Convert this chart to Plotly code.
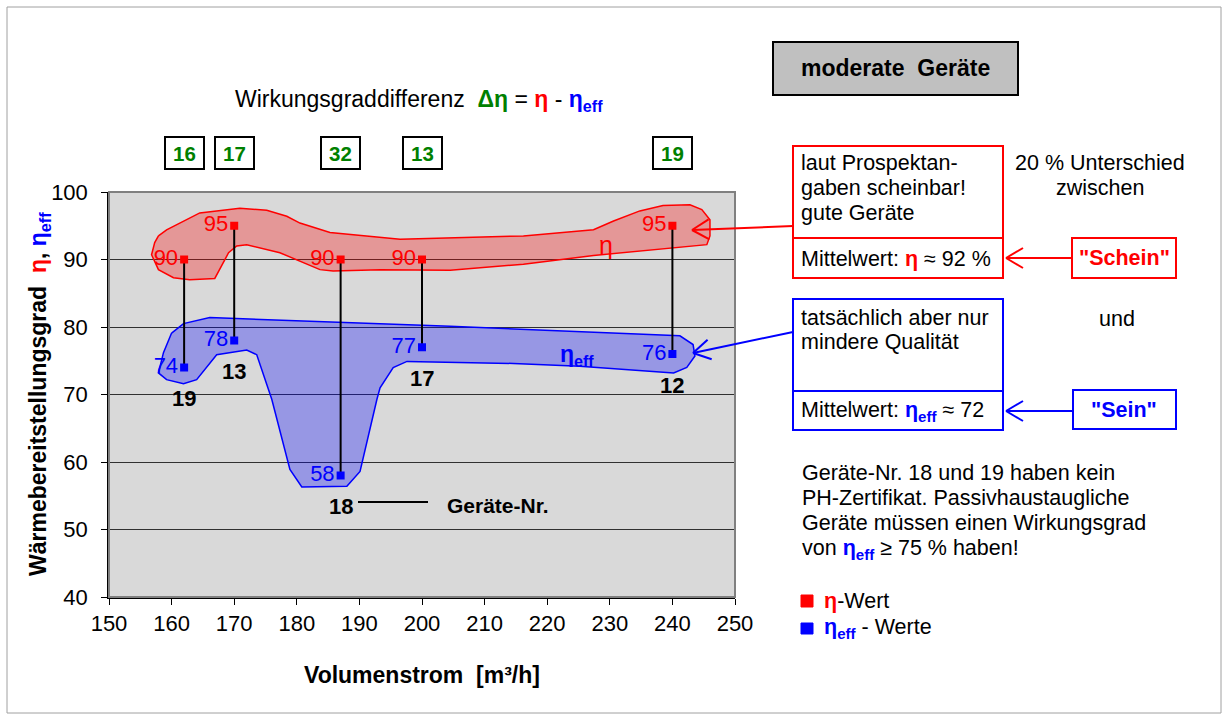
import math
import plotly.graph_objects as go

# ---------------- data ----------------
flow = [162, 170, 187, 200, 240]          # Volumenstrom [m³/h]
eta = [90, 95, 90, 90, 95]                # η (Prospektangaben)
eta_eff = [74, 78, 58, 77, 76]            # η_eff (gemessen)
device_no = ["19", "13", "18", "17", "12"]
x_ticks = list(range(150, 251, 10))
y_ticks = list(range(40, 101, 10))

# hand-drawn highlight regions (data coordinates)
red_blob_x = [157.9, 159.2, 164.5, 170.9, 175.2, 178.4, 180.5, 185.3, 196.5, 216.2, 227.4, 230.6,
              234.8, 238.5, 242.8, 244.7, 246.0, 246.0, 245.5, 227.4, 216.2, 204.5, 193.3, 185.8,
              183.7, 180.0, 177.3, 172.0, 170.4, 169.1, 166.9, 162.9, 160.3, 157.9, 156.8, 157.3, 157.9]
red_blob_y = [93.5, 94.4, 96.9, 97.6, 97.3, 96.4, 95.4, 94.0, 93.0, 93.5, 94.4, 95.7,
              97.2, 98.0, 98.1, 97.4, 95.9, 93.5, 92.2, 90.6, 89.3, 88.4, 88.5, 88.3,
              88.5, 90.0, 91.0, 92.2, 92.0, 91.0, 87.2, 87.0, 87.3, 88.5, 90.7, 92.5, 93.5]
blue_blob_x = [160.0, 161.9, 166.1, 193.3, 204.5, 241.2, 243.3, 243.6, 242.3, 240.2, 225.2, 214.6,
               197.6, 195.4, 193.3, 192.8, 190.1, 188.0, 180.8, 178.9, 177.8, 176.0, 173.6, 172.0,
               167.2, 164.0, 161.9, 159.2, 157.9, 158.7, 160.0]
blue_blob_y = [79.1, 80.5, 81.4, 80.5, 80.1, 78.7, 77.4, 75.7, 74.0, 73.2, 74.2, 74.6,
               74.9, 74.0, 71.0, 69.3, 58.6, 56.4, 56.3, 58.9, 62.8, 69.3, 75.9, 76.6,
               75.9, 72.2, 71.6, 72.2, 73.2, 76.2, 79.1]

diff = [a - b for a, b in zip(eta, eta_eff)]

# ---------------- layout helpers (pixel -> paper) ----------------
W, H = 1228, 720
L, R, T, B = 109, 735, 192, 597


def PX(px):
    return (px - L) / (R - L)


def PY(py):
    return (B - py) / (B - T)


FONT = "Arial, Liberation Sans, sans-serif"
RED = "#ff0000"
BLUE = "#0000ff"
GREEN = "#008000"
BODY = 21.5

fig = go.Figure()

fig.add_trace(go.Scatter(x=red_blob_x, y=red_blob_y, mode="lines", fill="toself",
                         fillcolor="rgba(255,0,0,0.30)", line=dict(color=RED, width=1.5),
                         hoverinfo="skip", showlegend=False))
fig.add_trace(go.Scatter(x=blue_blob_x, y=blue_blob_y, mode="lines", fill="toself",
                         fillcolor="rgba(0,0,255,0.30)", line=dict(color=BLUE, width=1.5),
                         hoverinfo="skip", showlegend=False))

# connecting lines
vx, vy = [], []
for x, a, b in zip(flow, eta, eta_eff):
    vx += [x, x, None]
    vy += [a, b, None]
fig.add_trace(go.Scatter(x=vx, y=vy, mode="lines", line=dict(color="#000000", width=2),
                         hoverinfo="skip", showlegend=False))

fig.add_trace(go.Scatter(x=flow, y=eta, mode="markers+text", name="η-Wert",
                         marker=dict(symbol="square", size=8, color=RED),
                         text=[str(v) for v in eta], textposition="middle left",
                         textfont=dict(color=RED, size=22, family=FONT), showlegend=False))
fig.add_trace(go.Scatter(x=flow, y=eta_eff, mode="markers+text", name="η_eff - Werte",
                         marker=dict(symbol="square", size=8, color=BLUE),
                         text=[str(v) for v in eta_eff], textposition="middle left",
                         textfont=dict(color=BLUE, size=22, family=FONT), showlegend=False))

ann = []
shapes = []

# device numbers below eff markers
for x, b, n in zip(flow, eta_eff, device_no):
    ann.append(dict(x=x, y=b, xref="x", yref="y", text=f"<b>{n}</b>", showarrow=False,
                    xanchor="center", yanchor="middle", yshift=-31,
                    font=dict(size=22, color="#000000")))

# difference boxes
for x, d in zip(flow, diff):
    ann.append(dict(x=x, y=PY(153), xref="x", yref="paper", text=f"<b>{d}</b>", showarrow=False,
                    xanchor="center", yanchor="middle",
                    font=dict(size=20.5, color=GREEN), bordercolor="#000000", borderwidth=2,
                    borderpad=1, width=35, height=28, bgcolor="#ffffff"))


def text(px, py, t, size=BODY, color="#000000", xanchor="left", **kw):
    ann.append(dict(x=PX(px), y=PY(py), xref="paper", yref="paper", text=t, showarrow=False,
                    xanchor=xanchor, yanchor="middle", font=dict(size=size, color=color), **kw))


def rect(x0, y0, x1, y1, color, width=2, fill=None):
    shapes.append(dict(type="rect", xref="paper", yref="paper", x0=PX(x0), x1=PX(x1),
                       y0=PY(y0), y1=PY(y1), line=dict(color=color, width=width),
                       fillcolor=fill, layer="above"))


def seg(x0, y0, x1, y1, color, width=2):
    shapes.append(dict(type="line", xref="paper", yref="paper", x0=PX(x0), x1=PX(x1),
                       y0=PY(y0), y1=PY(y1), line=dict(color=color, width=width), layer="above"))


def arrow(x0, y0, x1, y1, color):
    seg(x0, y0, x1, y1, color)
    dx, dy = x1 - x0, y1 - y0
    ln = math.hypot(dx, dy)
    ux, uy = dx / ln, dy / ln
    nx, ny = -uy, ux
    for s in (1, -1):
        seg(x1, y1, x1 - 17 * ux + s * 10 * nx, y1 - 17 * uy + s * 10 * ny, color)


# outer frame
shapes.append(dict(type="rect", xref="paper", yref="paper", x0=PX(7), x1=PX(1221), y0=PY(7),
                   y1=PY(713), line=dict(color="#a0a0a0", width=1), layer="below"))
# plot frame
shapes.append(dict(type="rect", xref="paper", yref="paper", x0=0, x1=1, y0=0, y1=1,
                   line=dict(color="#808080", width=2), layer="above"))

# title
text(419, 101, "Wirkungsgraddifferenz  <b><span style='color:#008000'>Δη</span></b> = "
     "<b><span style='color:#ff0000'>η</span></b> - <b><span style='color:#0000ff'>η<sub>eff</sub></span></b>",
     size=23, xanchor="center")

# moderate Geräte box
rect(773, 42, 1018, 95, "#000000", 2, "#c0c0c0")
text(895, 68, "<b>moderate  Geräte</b>", size=23, xanchor="center")

# red box
rect(793, 146, 1003, 278, RED)
seg(793, 238, 1003, 238, RED)
text(799, 163, "laut Prospektan-")
text(799, 188, "gaben scheinbar!")
text(799, 213, "gute Geräte")
text(799, 259, "Mittelwert: <b><span style='color:#ff0000'>η</span></b> ≈ 92 %")
rect(1072, 238, 1176, 278, RED)
text(1124, 258, "<b>\"Schein\"</b>", color=RED, xanchor="center")
arrow(1072, 258, 1006, 258, RED)
arrow(793, 226, 692, 230, RED)
text(1100, 163, "20 % Unterschied", xanchor="center")
text(1100, 188, "zwischen", xanchor="center")

# blue box
rect(793, 299, 1003, 430, BLUE)
seg(793, 391, 1003, 391, BLUE)
text(799, 318, "tatsächlich aber nur")
text(799, 342, "mindere Qualität")
text(799, 411, "Mittelwert: <b><span style='color:#0000ff'>η<sub>eff</sub></span></b> ≈ 72")
rect(1073, 390, 1176, 429, BLUE)
text(1124, 410, "<b>\"Sein\"</b>", color=BLUE, xanchor="center")
arrow(1073, 411, 1006, 411, BLUE)
arrow(793, 332, 693, 353, BLUE)
text(1117, 319, "und", xanchor="center")

# note
text(800, 473, "Geräte-Nr. 18 und 19 haben kein")
text(800, 498, "PH-Zertifikat. Passivhaustaugliche")
text(800, 523, "Geräte müssen einen Wirkungsgrad")
text(800, 549, "von <b><span style='color:#0000ff'>η<sub>eff</sub></span></b> ≥ 75 % haben!")

# legend
rect(801, 595, 813, 607, RED, 1, RED)
rect(801, 623, 813, 634, BLUE, 1, BLUE)
text(822, 601, "<b><span style='color:#ff0000'>η</span></b>-Wert")
text(822, 628, "<b><span style='color:#0000ff'>η<sub>eff</sub></span></b> - Werte")

# blob labels
text(606, 245, "η", size=25, color=RED, xanchor="center")
text(577, 355, "<b>η<sub>eff</sub></b>", size=23, color=BLUE, xanchor="center")

# Geräte-Nr. pointer
seg(358, 502, 428, 502, "#000000")
text(445, 505, "<b>Geräte-Nr.</b>", size=21)

# axis titles
text(422, 675, "<b>Volumenstrom  [m³/h]</b>", size=23, xanchor="center")
ann.append(dict(x=PX(39), y=PY(394), xref="paper", yref="paper", textangle=-90, showarrow=False,
                xanchor="center", yanchor="middle", font=dict(size=23, color="#000000"),
                text="<b>Wärmebereitstellungsgrad  <span style='color:#ff0000'>η</span>, "
                     "<span style='color:#0000ff'>η<sub>eff</sub></span></b>"))

fig.update_layout(
    width=W, height=H,
    margin=dict(l=L, r=W - R, t=T, b=H - B, autoexpand=False),
    paper_bgcolor="#ffffff", plot_bgcolor="#d9d9d9",
    font=dict(family=FONT, size=BODY, color="#000000"),
    annotations=ann, shapes=shapes, showlegend=False,
    xaxis=dict(range=[150, 250], tickvals=x_ticks, showgrid=False, zeroline=False,
               showline=True, linecolor="#000000", linewidth=1.5, ticks="outside", ticklen=6,
               tickcolor="#000000", tickfont=dict(size=22), fixedrange=True),
    yaxis=dict(range=[40, 100], tickvals=y_ticks, showgrid=True, gridcolor="#303030", gridwidth=1,
               zeroline=False, showline=True, linecolor="#000000", linewidth=1.5, ticks="outside",
               ticklen=6, tickcolor="#000000", tickfont=dict(size=22), ticklabelstandoff=9,
               fixedrange=True),
)

fig.write_html("out.html", config={"displayModeBar": False},
               post_script="document.body.style.margin='0px';")
